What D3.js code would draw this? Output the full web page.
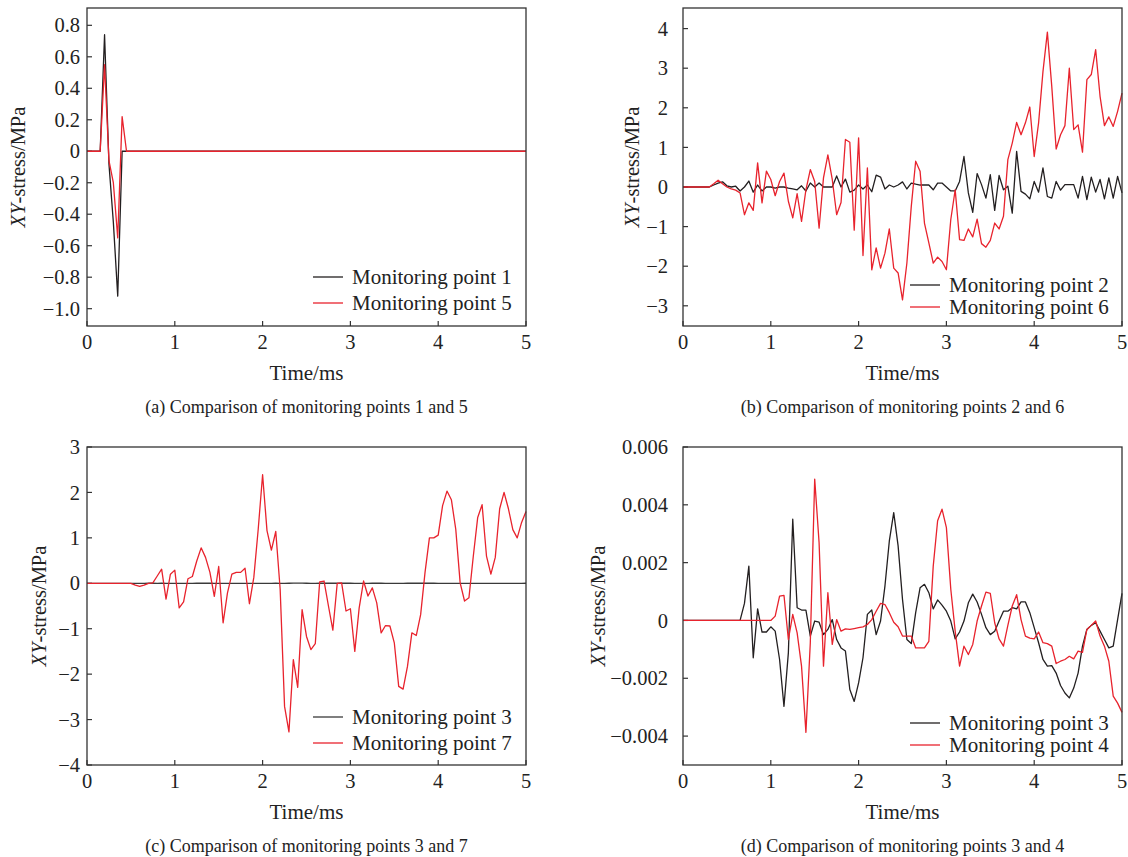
<!DOCTYPE html>
<html>
<head>
<meta charset="utf-8">
<script src="https://cdn.jsdelivr.net/npm/d3@7.9.0/dist/d3.min.js"></script>
<style>
  html, body { margin: 0; padding: 0; background: #fff; }
  svg { display: block; font-family: "Liberation Serif", "Times New Roman", serif; }
</style>
</head>
<body>
<svg id="chart" width="1128" height="857"></svg>
<script>
// ---- data ----
const DT = 0.05; // sampling step, ms

// panel (a): short pulse, then flat
const timeA = [0, 0.15, 0.2, 0.25, 0.3, 0.35, 0.4, 0.45, 5];
const mp1 = [0, 0, 0.74, -0.08, -0.45, -0.92, 0, 0, 0];
const mp5 = [0, 0, 0.55, -0.06, -0.20, -0.55, 0.22, 0, 0];

// panel (b), MPa, one value every 0.05 ms
const mp2 = [
  0, 0, 0, 0, 0, 0, 0, 0.05, 0.10, 0.13,
  0.03, 0.0, 0.02, -0.10, 0.0, 0.15, -0.13, 0.05, -0.10, 0.0,
  0.0, -0.03, 0.0, 0.0, -0.03, -0.05, -0.07, 0.03, -0.10, 0.10,
  0.0, 0.10, 0.0, 0.0, 0.0, 0.28, 0.0, 0.20, -0.13, -0.08,
  0.05, -0.05, 0.05, -0.12, 0.30, 0.25, -0.05, 0.05, 0.0, 0.05,
  0.13, -0.05, 0.10, 0.07, 0.05, 0.05, 0.05, -0.07, 0.10, 0.10,
  0.0, -0.10, -0.10, 0.14, 0.77, -0.15, -0.64, 0.34, 0.06, -0.28,
  0.31, -0.59, 0.29, -0.07, 0.02, -0.66, 0.90, -0.11, -0.18, -0.30,
  0.14, -0.13, 0.48, -0.24, -0.28, 0.14, -0.08, 0.06, 0.06, 0.06,
  -0.28, 0.27, -0.32, 0.25, -0.13, 0.19, -0.30, 0.23, -0.28, 0.27,
  -0.15
];
const mp6 = [
  0, 0, 0, 0, 0, 0, 0, 0.08, 0.17, 0.08,
  0.0, -0.05, -0.08, -0.15, -0.70, -0.40, -0.59, 0.61, -0.40, 0.40,
  0.19, -0.22, 0.14, 0.35, -0.36, -0.78, -0.17, -0.87, -0.07, 0.44,
  0.14, -1.04, 0.23, 0.81, 0.19, -0.70, -0.39, 1.20, 1.13, -1.09,
  1.24, -1.73, 0.48, -2.09, -1.54, -2.05, -1.67, -1.06, -2.05, -2.17,
  -2.85, -1.92, -0.49, 0.65, 0.40, -0.91, -1.41, -1.92, -1.77, -1.88,
  -2.09, -0.82, -0.07, -1.33, -1.35, -1.06, -1.26, -0.81, -1.43, -1.52,
  -1.35, -0.91, -1.06, -0.74, 0.69, 1.11, 1.63, 1.32, 1.62, 2.02,
  0.77, 1.62, 2.92, 3.91, 2.54, 0.96, 1.32, 1.55, 3.00, 1.45,
  1.57, 0.88, 2.71, 2.84, 3.47, 2.29, 1.55, 1.77, 1.53, 1.91,
  2.37
];

// panel (c) red, MPa
const mp7 = [
  0, 0, 0, 0, 0, 0, 0, 0, 0, 0,
  0, -0.04, -0.07, -0.04, 0, 0.01, 0.16, 0.31, -0.35, 0.20,
  0.29, -0.54, -0.41, 0.10, 0.15, 0.49, 0.78, 0.57, 0.24, -0.29,
  0.37, -0.87, -0.21, 0.20, 0.24, 0.24, 0.33, -0.45, 0.13, 1.19,
  2.39, 1.16, 0.73, 1.14, -0.13, -2.71, -3.27, -1.68, -2.29, -0.58,
  -1.17, -1.46, -1.33, 0.03, 0.05, -0.50, -1.03, 0, 0.01, -0.61,
  -0.56, -1.50, -0.54, 0.05, -0.28, -0.10, -0.43, -1.09, -0.93, -0.94,
  -1.31, -2.27, -2.33, -1.83, -1.09, -1.15, -0.69, 0.24, 1.00, 1.00,
  1.06, 1.71, 2.03, 1.84, 1.19, 0.01, -0.39, -0.32, 0.60, 1.45,
  1.73, 0.60, 0.20, 0.57, 1.64, 2.00, 1.64, 1.18, 1.00, 1.34,
  1.58
];

// points 3 and 4, in units of 0.001 MPa
const mp3e3 = [
  0, 0, 0, 0, 0, 0, 0, 0, 0, 0,
  0, 0, 0, 0, 0.59, 1.88, -1.29, 0.40, -0.40, -0.40,
  -0.22, -0.37, -1.35, -2.97, -1.12, 3.50, 0.44, 0.36, 0.36, -0.54,
  -0.02, -0.06, -0.49, -0.31, 0.03, -0.66, -0.95, -1.06, -2.39, -2.80,
  -2.16, -1.29, 0.21, 0.36, -0.49, -0.02, 1.19, 2.75, 3.73, 2.58,
  0.73, -0.66, -0.80, 0.27, 1.13, 1.25, 0.96, 0.40, 0.71, 0.53,
  0.32, -0.02, -0.64, -0.40, -0.02, 0.61, 0.91, 0.64, 0.21, -0.25,
  -0.49, -0.37, -0.02, 0.32, 0.32, 0.44, 0.40, 0.64, 0.64, 0.27,
  -0.25, -0.77, -1.35, -1.58, -1.56, -1.82, -2.25, -2.51, -2.68, -2.34,
  -1.82, -0.89, -0.31, -0.17, -0.08, -0.37, -0.66, -0.95, -0.89, 0.03,
  0.94
];
const mp4e3 = [
  0, 0, 0, 0, 0, 0, 0, 0, 0, 0,
  0, 0, 0, 0, 0, 0, 0, 0, 0, 0,
  0, 0.15, 0.84, 0.87, -0.66, 0.21, -0.43, -1.58, -3.87, -0.77,
  4.89, 2.69, -1.58, 0.96, -0.83, 0.03, -0.37, -0.29, -0.31, -0.28,
  -0.25, -0.22, -0.14, 0.03, 0.32, 0.59, 0.55, 0.27, -0.06, -0.22,
  -0.54, -0.54, -0.54, -0.95, -0.95, -0.95, -0.72, 1.88, 3.45, 3.85,
  3.21, 1.08, -0.37, -1.58, -0.89, -1.18, -0.83, -0.02, 0.50, 0.98,
  0.94, -0.08, -0.64, -0.89, -0.17, 0.50, 0.89, 0.03, -0.54, -0.61,
  -0.64, -0.40, -0.77, -0.80, -0.89, -1.49, -1.41, -1.35, -1.24, -1.33,
  -1.06, -1.10, -0.31, -0.17, -0.02, -0.54, -0.89, -1.41, -2.62, -2.86,
  -3.18
];
const mp3 = mp3e3.map(v => v / 1000);
const mp4 = mp4e3.map(v => v / 1000);

const timeGrid = d3.range(mp2.length).map(i => i * DT);

const xTicks = [0, 1, 2, 3, 4, 5];
const yTicksA = [0.8, 0.6, 0.4, 0.2, 0, -0.2, -0.4, -0.6, -0.8, -1.0];
const yTicksB = [4, 3, 2, 1, 0, -1, -2, -3];
const yTicksC = [3, 2, 1, 0, -1, -2, -3, -4];
const yTicksD = [0.006, 0.004, 0.002, 0, -0.002, -0.004];

const BLACK = '#231f20';
const RED = '#e8232d';

// ---- panel layout ----
const panels = [
  {
    box: [87, 8, 526, 326], yDomain: [-1.11, 0.91], yTicks: yTicksA, dec: 1,
    labelGap: 7, titleX: 18,
    caption: '(a) Comparison of monitoring points 1 and 5',
    series: [
      { name: 'Monitoring point 1', t: timeA, v: mp1, color: BLACK },
      { name: 'Monitoring point 5', t: timeA, v: mp5, color: RED }
    ],
    legend: { x: 313, y: 277, gap: 26 }
  },
  {
    box: [683, 8, 1122, 326], yDomain: [-3.51, 4.52], yTicks: yTicksB, dec: 0,
    labelGap: 15, titleX: 632,
    caption: '(b) Comparison of monitoring points 2 and 6',
    series: [
      { name: 'Monitoring point 2', t: timeGrid, v: mp2, color: BLACK },
      { name: 'Monitoring point 6', t: timeGrid, v: mp6, color: RED }
    ],
    legend: { x: 910, y: 285, gap: 22 }
  },
  {
    box: [87, 447, 526, 765], yDomain: [-4, 3], yTicks: yTicksC, dec: 0,
    labelGap: 7, titleX: 39,
    caption: '(c) Comparison of monitoring points 3 and 7',
    series: [
      { name: 'Monitoring point 3', t: timeGrid, v: mp3, color: '#3a3a3a' },
      { name: 'Monitoring point 7', t: timeGrid, v: mp7, color: RED }
    ],
    legend: { x: 313, y: 717, gap: 26 }
  },
  {
    box: [683, 447, 1122, 765], yDomain: [-0.005, 0.006], yTicks: yTicksD, dec: 3,
    labelGap: 15, titleX: 598,
    caption: '(d) Comparison of monitoring points 3 and 4',
    series: [
      { name: 'Monitoring point 3', t: timeGrid, v: mp3, color: BLACK },
      { name: 'Monitoring point 4', t: timeGrid, v: mp4, color: RED }
    ],
    legend: { x: 910, y: 723, gap: 22 }
  }
];

const svg = d3.select('#chart');
const TICK = 5;

panels.forEach(p => {
  const [x0, y0, x1, y1] = p.box;
  const x = d3.scaleLinear().domain([0, 5]).range([x0, x1]);
  const y = d3.scaleLinear().domain(p.yDomain).range([y1, y0]);
  const fmt = d => d === 0 ? '0' : d3.format(`.${p.dec}f`)(d);
  const g = svg.append('g');

  // inward ticks
  g.selectAll('.xt').data(xTicks).join('line')
    .attr('x1', d => x(d)).attr('x2', d => x(d))
    .attr('y1', y1).attr('y2', y1 - TICK)
    .attr('stroke', '#333').attr('stroke-width', 1.2);
  g.selectAll('.yt').data(p.yTicks).join('line')
    .attr('x1', x0).attr('x2', x0 + TICK)
    .attr('y1', d => y(d)).attr('y2', d => y(d))
    .attr('stroke', '#333').attr('stroke-width', 1.2);

  // tick labels
  g.selectAll('.xl').data(xTicks).join('text')
    .attr('x', d => x(d)).attr('y', y1 + 23)
    .attr('text-anchor', 'middle').attr('font-size', 20.5).attr('fill', '#222')
    .text(d => d);
  g.selectAll('.yl').data(p.yTicks).join('text')
    .attr('x', x0 - p.labelGap).attr('y', d => y(d)).attr('dy', '0.35em')
    .attr('text-anchor', 'end').attr('font-size', 20.5).attr('fill', '#222')
    .text(fmt);

  // series
  const line = d3.line().x(d => x(d[0])).y(d => y(d[1]));
  p.series.forEach(s => {
    g.append('path')
      .datum(d3.zip(s.t, s.v))
      .attr('d', line)
      .attr('fill', 'none').attr('stroke', s.color)
      .attr('stroke-width', 1.3).attr('stroke-linejoin', 'round');
  });

  // frame
  g.append('rect')
    .attr('x', x0).attr('y', y0).attr('width', x1 - x0).attr('height', y1 - y0)
    .attr('fill', 'none').attr('stroke', '#333').attr('stroke-width', 1.3);

  // legend
  p.series.forEach((s, i) => {
    const ly = p.legend.y + i * p.legend.gap;
    g.append('line')
      .attr('x1', p.legend.x).attr('x2', p.legend.x + 30)
      .attr('y1', ly).attr('y2', ly)
      .attr('stroke', s.color).attr('stroke-width', 1.3);
    g.append('text')
      .attr('x', p.legend.x + 39).attr('y', ly).attr('dy', '0.35em')
      .attr('font-size', 21).attr('fill', '#222')
      .text(s.name);
  });

  // axis titles
  g.append('text')
    .attr('x', (x0 + x1) / 2).attr('y', y1 + 54)
    .attr('text-anchor', 'middle').attr('font-size', 21).attr('fill', '#222')
    .text('Time/ms');
  const yt = g.append('text')
    .attr('transform', `translate(${p.titleX},${(y0 + y1) / 2}) rotate(-90)`)
    .attr('text-anchor', 'middle').attr('dy', '0.35em')
    .attr('font-size', 20.5).attr('fill', '#222');
  yt.append('tspan').attr('font-style', 'italic').text('XY');
  yt.append('tspan').text('-stress/MPa');

  // caption
  g.append('text')
    .attr('x', (x0 + x1) / 2).attr('y', y1 + 87)
    .attr('text-anchor', 'middle').attr('font-size', 18).attr('fill', '#222')
    .text(p.caption);
});
</script>
</body>
</html>
